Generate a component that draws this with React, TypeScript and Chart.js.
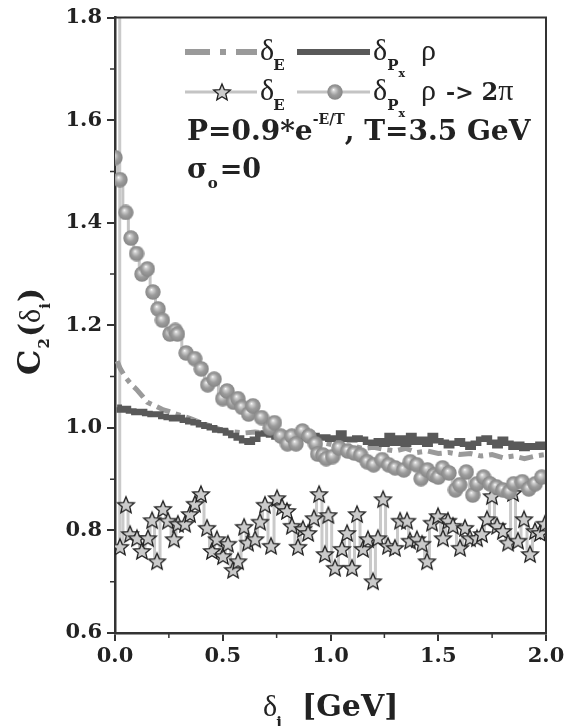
import { useEffect, useRef } from 'react';
import { Chart, registerables } from 'chart.js';

Chart.register(...registerables);

// δE (dash-dot)
const dashX = [0.01, 0.025, 0.05, 0.075, 0.1, 0.125, 0.15, 0.175, 0.2, 0.225, 0.25, 0.275, 0.3, 0.35, 0.4, 0.45, 0.5, 0.55, 0.6, 0.65, 0.7, 0.75, 0.8, 0.85, 0.9, 0.95, 1.0, 1.05, 1.1, 1.15, 1.2, 1.25, 1.3, 1.35, 1.4, 1.45, 1.5, 1.55, 1.6, 1.65, 1.7, 1.75, 1.8, 1.85, 1.9, 1.95, 2.0];
const dashY = [1.13, 1.115, 1.098, 1.085, 1.075, 1.063, 1.05, 1.045, 1.04, 1.035, 1.032, 1.028, 1.025, 1.018, 1.01, 1.002, 0.995, 0.992, 0.99, 0.992, 0.99, 0.988, 0.982, 0.978, 0.975, 0.972, 0.968, 0.962, 0.965, 0.96, 0.962, 0.958, 0.955, 0.96, 0.952, 0.955, 0.95, 0.952, 0.948, 0.95, 0.945, 0.948, 0.942, 0.945, 0.94, 0.945, 0.948];

// δPx ρ (dark solid)
const darkX = [0.01, 0.03, 0.05, 0.075, 0.1, 0.125, 0.15, 0.175, 0.2, 0.225, 0.25, 0.275, 0.3, 0.325, 0.35, 0.375, 0.4, 0.425, 0.45, 0.475, 0.5, 0.525, 0.55, 0.575, 0.6, 0.625, 0.65, 0.675, 0.7, 0.725, 0.75, 0.775, 0.8, 0.825, 0.85, 0.875, 0.9, 0.925, 0.95, 0.975, 1.0, 1.025, 1.05, 1.075, 1.1, 1.125, 1.15, 1.175, 1.2, 1.225, 1.25, 1.275, 1.3, 1.325, 1.35, 1.375, 1.4, 1.425, 1.45, 1.475, 1.5, 1.525, 1.55, 1.575, 1.6, 1.625, 1.65, 1.675, 1.7, 1.725, 1.75, 1.775, 1.8, 1.825, 1.85, 1.875, 1.9, 1.925, 1.95, 1.975, 2.0];
const darkY = [1.04, 1.035, 1.038, 1.033, 1.03, 1.032, 1.028, 1.026, 1.027, 1.022, 1.02, 1.018, 1.02, 1.015, 1.012, 1.01, 1.006, 1.003, 1.0, 0.996, 0.995, 0.99, 0.985, 0.98, 0.975, 0.972, 0.978, 0.988, 0.99, 0.986, 0.982, 0.978, 0.985, 0.988, 0.984, 0.98, 0.982, 0.985, 0.98, 0.982, 0.978, 0.98, 0.99, 0.978, 0.977, 0.98, 0.978, 0.972, 0.97, 0.975, 0.968, 0.985, 0.97, 0.98, 0.968, 0.985, 0.972, 0.978, 0.968, 0.985, 0.975, 0.972, 0.965, 0.97, 0.975, 0.968, 0.962, 0.97, 0.978, 0.98, 0.972, 0.965, 0.978, 0.97, 0.962, 0.968, 0.96, 0.965, 0.962, 0.968, 0.962];

// δPx ρ -> 2π (spheres)
const circX = [0.0, 0.023, 0.05, 0.074, 0.1, 0.125, 0.15, 0.176, 0.2, 0.22, 0.255, 0.28, 0.29, 0.33, 0.37, 0.4, 0.43, 0.46, 0.5, 0.52, 0.55, 0.57, 0.59, 0.62, 0.64, 0.68, 0.72, 0.74, 0.77, 0.8, 0.82, 0.84, 0.87, 0.9, 0.93, 0.94, 0.965, 0.98, 1.01, 1.04, 1.08, 1.11, 1.14, 1.17, 1.2, 1.24, 1.27, 1.3, 1.34, 1.37, 1.4, 1.42, 1.45, 1.48, 1.5, 1.52, 1.55, 1.58, 1.6, 1.63, 1.66, 1.68, 1.71, 1.74, 1.77, 1.8, 1.83, 1.85, 1.89, 1.92, 1.95, 1.98];
const circY = [1.527, 1.484, 1.42, 1.37, 1.34, 1.3, 1.31, 1.265, 1.232, 1.21, 1.183, 1.19, 1.183, 1.146, 1.135, 1.115, 1.084, 1.095, 1.057, 1.072, 1.05, 1.057, 1.04, 1.027, 1.043, 1.02, 1.0, 1.01, 0.984, 0.969, 0.984, 0.969, 0.994, 0.984, 0.969, 0.949, 0.947, 0.94, 0.944, 0.961, 0.955, 0.951, 0.947, 0.934, 0.928, 0.938, 0.928, 0.922, 0.918, 0.934, 0.928, 0.901, 0.918, 0.908, 0.904, 0.922, 0.912, 0.879, 0.889, 0.914, 0.869, 0.891, 0.904, 0.891, 0.885, 0.879, 0.875, 0.891, 0.895, 0.881, 0.891, 0.904];

// δE (stars); the first point lies above the plotted range
const starX = [0.021, 0.023, 0.051, 0.07, 0.102, 0.125, 0.153, 0.172, 0.195, 0.223, 0.246, 0.274, 0.292, 0.325, 0.348, 0.371, 0.399, 0.427, 0.45, 0.473, 0.501, 0.524, 0.548, 0.571, 0.599, 0.617, 0.65, 0.673, 0.696, 0.724, 0.752, 0.775, 0.798, 0.821, 0.849, 0.872, 0.896, 0.923, 0.947, 0.974, 0.99, 1.021, 1.053, 1.077, 1.1, 1.123, 1.151, 1.174, 1.197, 1.22, 1.244, 1.267, 1.299, 1.323, 1.355, 1.369, 1.401, 1.425, 1.448, 1.471, 1.499, 1.522, 1.545, 1.568, 1.601, 1.624, 1.647, 1.68, 1.703, 1.726, 1.749, 1.773, 1.8, 1.824, 1.847, 1.87, 1.898, 1.926, 1.949, 1.972, 1.995];
const starY = [1.9, 0.768, 0.85, 0.793, 0.785, 0.76, 0.785, 0.82, 0.74, 0.842, 0.819, 0.783, 0.813, 0.813, 0.832, 0.852, 0.871, 0.805, 0.76, 0.783, 0.75, 0.774, 0.723, 0.74, 0.807, 0.776, 0.783, 0.817, 0.85, 0.77, 0.863, 0.846, 0.838, 0.809, 0.768, 0.803, 0.795, 0.824, 0.871, 0.754, 0.83, 0.727, 0.764, 0.795, 0.727, 0.832, 0.764, 0.783, 0.701, 0.785, 0.861, 0.77, 0.766, 0.819, 0.819, 0.78, 0.783, 0.774, 0.74, 0.815, 0.828, 0.785, 0.819, 0.809, 0.766, 0.805, 0.785, 0.785, 0.793, 0.822, 0.867, 0.809, 0.799, 0.776, 0.873, 0.78, 0.822, 0.754, 0.799, 0.795, 0.813];

const yTicks = [0.6, 0.8, 1.0, 1.2, 1.4, 1.6, 1.8];
const xTicks = [0.0, 0.5, 1.0, 1.5, 2.0];

const pts = (xs: number[], ys: number[]) => xs.map((x, i) => ({ x, y: ys[i] }));

function makeStar(size: number) {
  const c = document.createElement('canvas');
  c.width = size;
  c.height = size;
  const g = c.getContext('2d')!;
  const cx = size / 2, cy = size / 2 + 0.8;
  const ro = size / 2 - 1.2, ri = ro * 0.45;
  g.beginPath();
  for (let k = 0; k < 10; k++) {
    const r = k % 2 === 0 ? ro : ri;
    const a = -Math.PI / 2 + (k * Math.PI) / 5;
    const px = cx + r * Math.cos(a), py = cy + r * Math.sin(a);
    if (k === 0) g.moveTo(px, py); else g.lineTo(px, py);
  }
  g.closePath();
  g.fillStyle = '#cbcbcb';
  g.fill();
  g.lineWidth = 1.3;
  g.strokeStyle = '#222';
  g.stroke();
  return c;
}

function makeSphere(size: number) {
  const c = document.createElement('canvas');
  c.width = size;
  c.height = size;
  const g = c.getContext('2d')!;
  const r = size / 2;
  const grd = g.createRadialGradient(r * 0.8, r * 0.7, 0, r, r, r);
  grd.addColorStop(0, '#ffffff');
  grd.addColorStop(0.18, '#d2d2d2');
  grd.addColorStop(0.55, '#9c9c9c');
  grd.addColorStop(1, '#858585');
  g.beginPath();
  g.arc(r, r, r - 0.3, 0, Math.PI * 2);
  g.fillStyle = grd;
  g.fill();
  return c;
}

const SERIF = '"DejaVu Serif", serif';
const GREEK = '"Liberation Serif", serif';

export default function App() {
  const ref = useRef<HTMLCanvasElement>(null);

  useEffect(() => {
    const star = makeStar(20);
    const sphere = makeSphere(16);

    const overlay = {
      id: 'overlay',
      afterDraw(chart: any) {
        const ctx = chart.ctx as CanvasRenderingContext2D;
        const { left, right, top, bottom } = chart.chartArea;
        const xs = chart.scales.x, ys = chart.scales.y;
        ctx.save();
        // frame top & right
        ctx.strokeStyle = '#333';
        ctx.lineWidth = 2;
        ctx.beginPath();
        ctx.moveTo(left, top);
        ctx.lineTo(right, top);
        ctx.lineTo(right, bottom);
        ctx.stroke();
        // minor ticks
        ctx.lineWidth = 1.5;
        ctx.beginPath();
        for (let v = 0.7; v < 1.8; v += 0.2) {
          const y = ys.getPixelForValue(v);
          ctx.moveTo(left - 5, y);
          ctx.lineTo(left, y);
        }
        for (let v = 0.25; v < 2; v += 0.5) {
          const x = xs.getPixelForValue(v);
          ctx.moveTo(x, bottom);
          ctx.lineTo(x, bottom + 5);
        }
        ctx.stroke();

        ctx.fillStyle = '#222';
        ctx.textBaseline = 'alphabetic';
        ctx.textAlign = 'left';
        const txt = (s: string, x: number, y: number, font: string) => {
          ctx.font = font;
          ctx.fillText(s, x, y);
          return x + ctx.measureText(s).width;
        };

        // legend row 1
        ctx.lineCap = 'butt';
        ctx.strokeStyle = '#9a9a9a';
        ctx.lineWidth = 6;
        ctx.setLineDash([25, 10, 6, 10]);
        ctx.beginPath();
        ctx.moveTo(185, 52);
        ctx.lineTo(257, 52);
        ctx.stroke();
        ctx.setLineDash([]);
        ctx.strokeStyle = '#595959';
        ctx.beginPath();
        ctx.moveTo(297, 52);
        ctx.lineTo(370, 52);
        ctx.stroke();
        let x = txt('δ', 260, 60, `30px ${GREEK}`);
        txt('E', x - 1, 70, `bold 15px ${SERIF}`);
        x = txt('δ', 373, 60, `30px ${GREEK}`);
        const xp = txt('P', x, 70, `bold 15px ${SERIF}`);
        txt('x', xp, 77, `bold 11px ${SERIF}`);
        txt('ρ', 421, 60, `30px ${GREEK}`);

        // legend row 2
        ctx.strokeStyle = '#c4c4c4';
        ctx.lineWidth = 3;
        ctx.beginPath();
        ctx.moveTo(185, 92);
        ctx.lineTo(257, 92);
        ctx.moveTo(297, 92);
        ctx.lineTo(370, 92);
        ctx.stroke();
        ctx.drawImage(star, 222 - 10, 92 - 10);
        ctx.drawImage(sphere, 335 - 8, 92 - 8);
        x = txt('δ', 260, 100, `30px ${GREEK}`);
        txt('E', x - 1, 110, `bold 15px ${SERIF}`);
        x = txt('δ', 373, 100, `30px ${GREEK}`);
        const xp2 = txt('P', x, 110, `bold 15px ${SERIF}`);
        txt('x', xp2, 117, `bold 11px ${SERIF}`);
        x = txt('ρ', 421, 100, `30px ${GREEK}`);
        x = txt('->', 446, 100, `bold 22px ${SERIF}`);
        x = txt('2', x + 8, 100, `bold 24px ${SERIF}`);
        txt('π', x, 100, `30px ${GREEK}`);

        // formula
        x = txt('P=0.9*e', 187, 140, `bold 28px ${SERIF}`);
        x = txt('-E/T', x, 124, `bold 14px ${SERIF}`);
        txt(', T=3.5 GeV', x, 140, `bold 28px ${SERIF}`);
        x = txt('σ', 187, 178, `bold 28px ${SERIF}`);
        x = txt('o', x, 188, `bold 15px ${SERIF}`);
        txt('=0', x + 2, 178, `bold 27px ${SERIF}`);

        // x title
        x = txt('δ', 263, 716, `30px ${GREEK}`);
        txt('i', x - 1, 727, `bold 15px ${SERIF}`);
        txt('[GeV]', 302, 716, `bold 30px ${SERIF}`);

        // y title (rotated)
        ctx.translate(40, 375);
        ctx.rotate(-Math.PI / 2);
        x = txt('C', 0, 0, `bold 32px ${SERIF}`);
        x = txt('2', x + 1, 9, `bold 15px ${SERIF}`);
        x = txt('(', x + 1, 0, `bold 30px ${SERIF}`);
        x = txt('δ', x, 0, `30px ${GREEK}`);
        x = txt('i', x, 10, `bold 15px ${SERIF}`);
        txt(')', x + 1, 0, `bold 30px ${SERIF}`);
        ctx.restore();
      },
    };

    const tickFont = { family: SERIF, size: 21, weight: 'bold' as const };

    const chart = new Chart(ref.current!, {
      type: 'scatter',
      data: {
        datasets: [
          {
            label: 'δPx ρ -> 2π',
            data: pts(circX, circY),
            showLine: true,
            stepped: 'middle',
            borderColor: '#c4c4c4',
            borderWidth: 3,
            pointStyle: sphere as any,
            pointRadius: 8,
            clip: 0,
          },
          {
            label: 'δPx ρ',
            data: pts(darkX, darkY),
            showLine: true,
            stepped: 'middle',
            borderColor: '#595959',
            borderWidth: 5.5,
            pointRadius: 0,
          },
          {
            label: 'δE',
            data: pts(dashX, dashY),
            showLine: true,
            borderColor: '#9a9a9a',
            borderWidth: 5,
            borderDash: [14, 6, 5, 6],
            pointRadius: 0,
          },
          {
            label: 'δE stars',
            data: pts(starX, starY),
            showLine: true,
            stepped: 'middle',
            borderColor: '#cacaca',
            borderWidth: 3,
            pointStyle: star as any,
            pointRadius: 10,
          },
        ],
      },
      options: {
        animation: false,
        responsive: false,
        maintainAspectRatio: false,
        layout: { padding: { top: 17, right: 32, left: 0, bottom: 0 } },
        plugins: { legend: { display: false }, tooltip: { enabled: false } },
        scales: {
          x: {
            type: 'linear',
            min: 0,
            max: 2,
            afterFit: (s: any) => { s.height = 93; },
            afterBuildTicks: (s: any) => { s.ticks = xTicks.map((v) => ({ value: v })); },
            ticks: { callback: (v: any) => Number(v).toFixed(1), font: tickFont, color: '#222', padding: 3, maxRotation: 0 },
            grid: { drawOnChartArea: false, tickLength: 8, color: '#333', lineWidth: 2 },
            border: { color: '#333', width: 2.5 },
          },
          y: {
            type: 'linear',
            min: 0.6,
            max: 1.8,
            afterFit: (s: any) => { s.width = 115; },
            afterBuildTicks: (s: any) => { s.ticks = yTicks.map((v) => ({ value: v })); },
            ticks: { callback: (v: any) => Number(v).toFixed(1), font: tickFont, color: '#222', padding: 5 },
            grid: { drawOnChartArea: false, tickLength: 8, color: '#333', lineWidth: 2 },
            border: { color: '#333', width: 2.5 },
          },
        },
      },
      plugins: [overlay],
    });
    return () => chart.destroy();
  }, []);

  return (
    <div style={{ position: 'fixed', left: 0, top: 0, width: 578, height: 726, background: '#fff' }}>
      <canvas ref={ref} width={578} height={726} style={{ width: 578, height: 726 }} />
    </div>
  );
}
